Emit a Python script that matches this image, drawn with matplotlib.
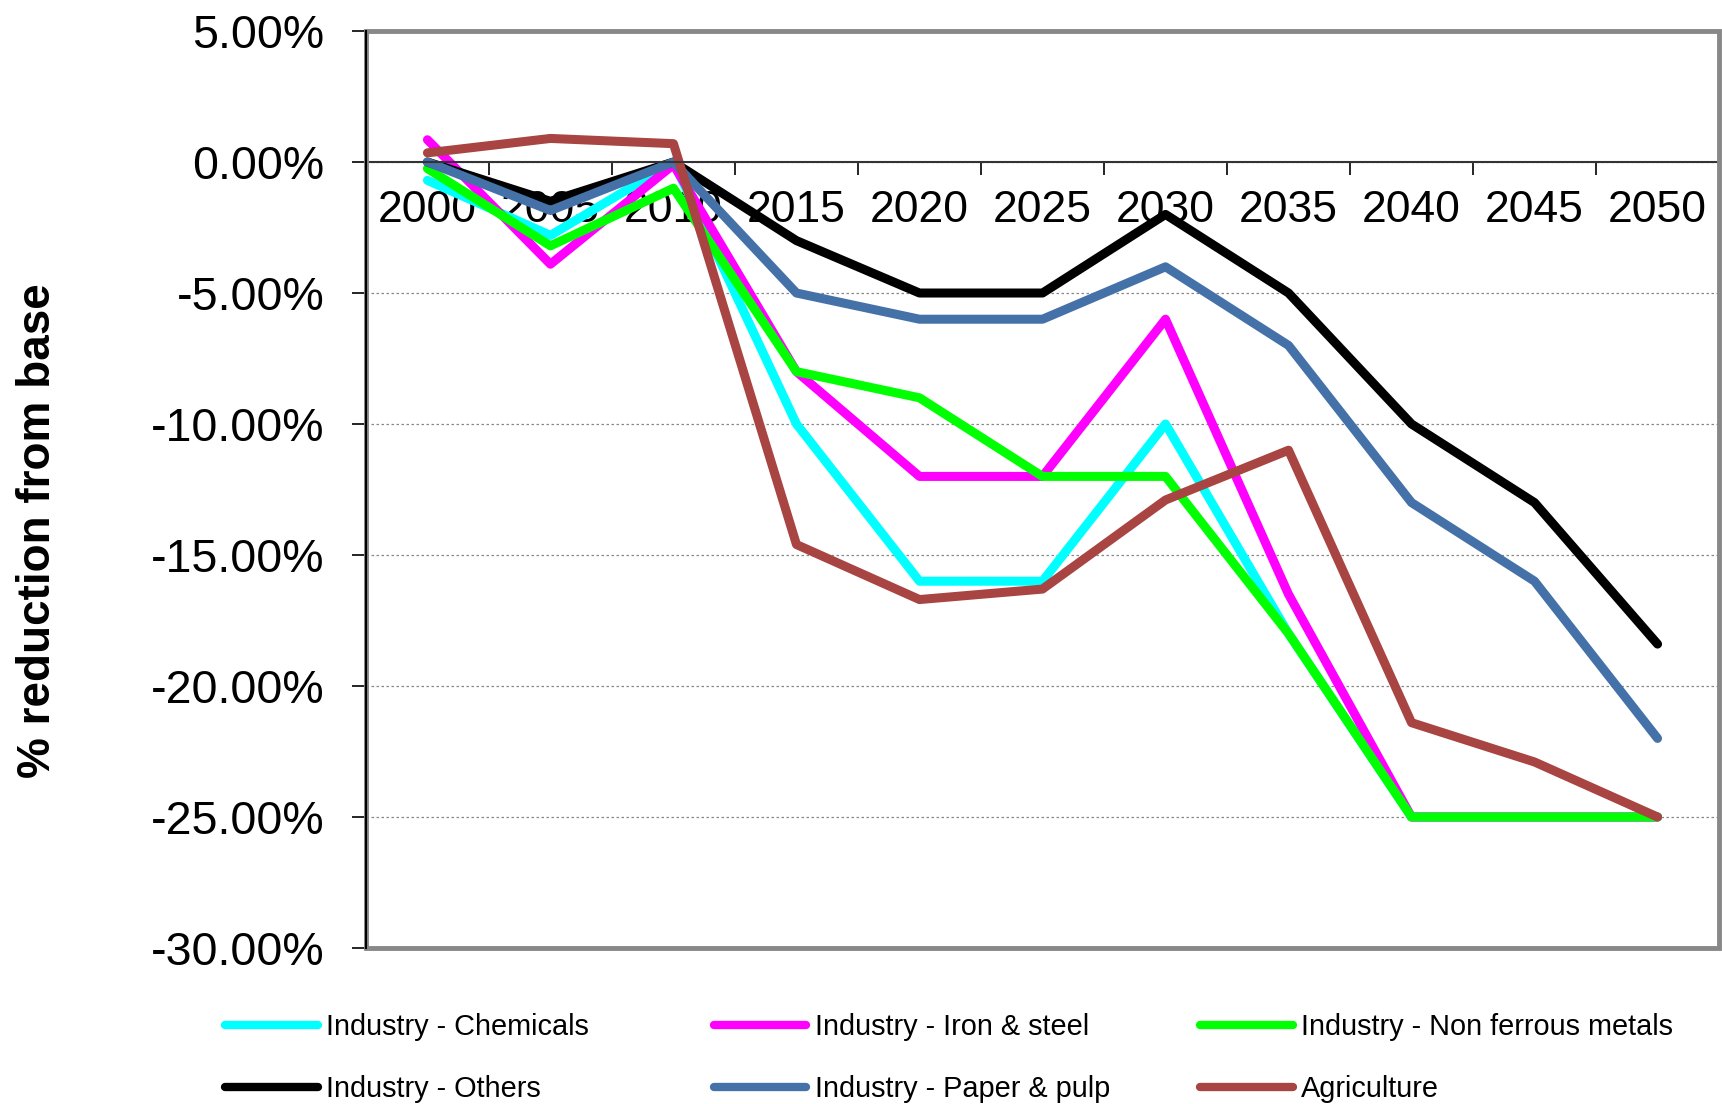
import matplotlib
matplotlib.use('Agg')
import matplotlib.pyplot as plt
from matplotlib.patches import Rectangle
from matplotlib.ticker import FuncFormatter, FixedLocator

plt.rcParams['font.family'] = ['Liberation Sans', 'DejaVu Sans']

years = ['2000', '2005', '2010', '2015', '2020', '2025', '2030', '2035', '2040', '2045', '2050']

chemicals = [-0.7, -2.8, 0.0, -10.0, -16.0, -16.0, -10.0, -18.0, -25.0, -25.0, -25.0]
iron_steel = [0.85, -3.9, -0.1, -8.0, -12.0, -12.0, -6.0, -16.5, -25.0, -25.0, -25.0]
non_ferrous = [-0.25, -3.2, -1.0, -8.0, -9.0, -12.0, -12.0, -18.0, -25.0, -25.0, -25.0]
others = [0.0, -1.5, 0.0, -3.0, -5.0, -5.0, -2.0, -5.0, -10.0, -13.0, -18.4]
paper_pulp = [0.0, -1.85, 0.0, -5.0, -6.0, -6.0, -4.0, -7.0, -13.0, -16.0, -22.0]
agriculture = [0.35, 0.9, 0.7, -14.6, -16.7, -16.3, -12.9, -11.0, -21.4, -22.9, -25.0]

series = [
    ('Industry - Chemicals', chemicals, '#00FFFF'),
    ('Industry - Iron & steel', iron_steel, '#FF00FF'),
    ('Industry - Non ferrous metals', non_ferrous, '#00FF00'),
    ('Industry - Others', others, '#000000'),
    ('Industry - Paper & pulp', paper_pulp, '#4471A8'),
    ('Agriculture', agriculture, '#A84441'),
]

fig = plt.figure(figsize=(17.22, 11.04), dpi=100)
ax = fig.add_axes([0.2125, 0.1413, 0.7858, 0.8306])

x = list(range(len(years)))
handles = {}
for name, vals, col in series:
    ln, = ax.plot(x, vals, color=col, lw=6.5, solid_capstyle='round', label=name)
    handles[name] = ln

ax.set_xlim(-0.5, 10.5)
ax.set_ylim(-30, 5)

# y axis
ax.set_yticks([5, 0, -5, -10, -15, -20, -25, -30])
ax.yaxis.set_major_formatter(FuncFormatter(lambda v, p: '%.2f%%' % v))
ax.tick_params(axis='y', direction='out', length=10, width=1.2, labelsize=33.5, pad=20)
ax.yaxis.grid(True, color='#888888', lw=0.9, linestyle=(0, (2, 2)))
ax.set_axisbelow(True)

# x axis sits on the zero line
ax.spines['bottom'].set_position(('data', 0))
ax.spines['bottom'].set_color('#333333')
ax.spines['bottom'].set_linewidth(1.5)
ax.set_xticks(x, years)
ax.xaxis.set_minor_locator(FixedLocator([i + 0.5 for i in range(10)]))
ax.tick_params(axis='x', which='major', length=0, labelsize=32, pad=20)
ax.tick_params(axis='x', which='minor', direction='out', length=9, width=1.2)

ax.spines['top'].set_visible(False)
ax.spines['right'].set_visible(False)
ax.spines['left'].set_color('black')
ax.spines['left'].set_linewidth(1.5)
ax.spines['left'].set_zorder(5)

# grey plot area border
ax.add_patch(Rectangle((0, 0), 1, 1, transform=ax.transAxes, fill=False,
                       edgecolor='#888888', lw=3.5, clip_on=False, zorder=4))

fig.text(0.022, 0.519, '% reduction from base', rotation=90, fontsize=33,
         fontweight='bold', ha='center', va='center')

# legend, three fixed columns
cols = [
    (0.1307, ['Industry - Chemicals', 'Industry - Others']),
    (0.4146, ['Industry - Iron & steel', 'Industry - Paper & pulp']),
    (0.6969, ['Industry - Non ferrous metals', 'Agriculture']),
]
for xpos, names in cols:
    leg = fig.legend([handles[n] for n in names], names, loc='center left',
                     bbox_to_anchor=(xpos, 0.0415), frameon=False, fontsize=20.8,
                     handlelength=3.2, handletextpad=0.3, labelspacing=1.18,
                     borderpad=0, borderaxespad=0)
    for l in leg.get_lines():
        l.set_linewidth(6)

plt.savefig('out.png', dpi=100)
